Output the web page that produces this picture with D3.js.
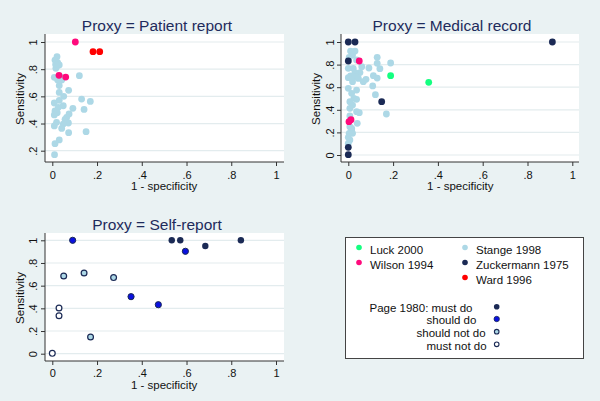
<!DOCTYPE html>
<html><head><meta charset="utf-8">
<script src="https://cdn.jsdelivr.net/npm/d3@7"></script>
<style>body{margin:0;background:#eaf2f3;}svg{display:block;font-family:"Liberation Sans",Arial,sans-serif;}</style>
</head><body><svg id="c" width="600" height="401"></svg>
<script>
// ---- data ----
const panelTitles = ["Proxy = Patient report", "Proxy = Medical record", "Proxy = Self-report"];
const xTicks = [0, 0.2, 0.4, 0.6, 0.8, 1];
const xTickLabels = ["0", ".2", ".4", ".6", ".8", "1"];
const yTicksPatient = [0.2, 0.4, 0.6, 0.8, 1];
const yTickLabelsPatient = [".2", ".4", ".6", ".8", "1"];
const yTicksOther = [0, 0.2, 0.4, 0.6, 0.8, 1];
const yTickLabelsOther = ["0", ".2", ".4", ".6", ".8", "1"];

// Patient report
const stangePatient = [[0.021,0.892],[0.012,0.867],[0.024,0.848],[0.031,0.831],[0.019,0.818],[0.016,0.806],[0.009,0.740],[0.024,0.720],[0.042,0.720],[0.121,0.752],[0.031,0.679],[0.073,0.644],[0.031,0.629],[0.051,0.600],[0.031,0.571],[0.131,0.580],[0.170,0.563],[0.009,0.551],[0.049,0.531],[0.027,0.519],[0.092,0.512],[0.142,0.504],[0.012,0.492],[0.022,0.480],[0.009,0.463],[0.075,0.470],[0.064,0.445],[0.057,0.431],[0.019,0.409],[0.072,0.404],[0.049,0.396],[0.009,0.382],[0.042,0.364],[0.073,0.333],[0.151,0.340],[0.031,0.279],[0.012,0.252],[0.010,0.171],[0.035,0.745],[0.015,0.835]];
const wilsonPatient = [[0.103,1.0],[0.030,0.755],[0.060,0.742]];
const wardPatient = [[0.182,0.929],[0.212,0.929]];

// Medical record
const stangeMedical = [[0.010,0.920],[0.030,0.920],[0.019,0.885],[0.004,0.864],[0.037,0.841],[0.129,0.864],[0.129,0.811],[0.189,0.814],[0.141,0.764],[0.060,0.782],[0.0,0.767],[0.022,0.767],[0.092,0.770],[0.052,0.729],[0.030,0.729],[0.112,0.702],[0.129,0.681],[0.0,0.684],[0.010,0.699],[0.030,0.693],[0.045,0.678],[0.079,0.670],[0.067,0.649],[0.019,0.649],[0.0,0.590],[0.109,0.611],[0.037,0.575],[0.015,0.546],[0.121,0.534],[0.025,0.501],[0.037,0.493],[0.007,0.472],[0.019,0.442],[0.007,0.413],[0.037,0.383],[0.049,0.375],[0.170,0.363],[0.007,0.345],[0.040,0.280],[0.007,0.251],[0.015,0.236],[0.015,0.221],[0.004,0.192],[0.019,0.192],[0.0,0.156],[0.007,0.133],[0.0,0.103]];
const zuckermannMedical = [[0.0,1.0],[0.030,1.0],[0.911,1.0],[0.0,0.832],[0.149,0.472],[0.0,0.068],[0.0,0.003]];
const wilsonMedical = [[0.049,0.832],[0.003,0.295],[0.012,0.313]];
const luckMedical = [[0.189,0.702],[0.359,0.643]];

// Self-report (Page 1980)
const pageMustDo = [[0.534,1.0],[0.572,1.0],[0.684,0.95],[0.843,1.0]];
const pageShouldDo = [[0.091,1.0],[0.595,0.903],[0.352,0.503],[0.474,0.432]];
const pageShouldNotDo = [[0.051,0.685],[0.142,0.712],[0.274,0.671],[0.171,0.147]];
const pageMustNotDo = [[0.030,0.403],[0.030,0.335],[0.0,0.003]];

const legendStudies = ["Luck 2000", "Wilson 1994", "Stange 1998", "Zuckermann 1975", "Ward 1996"];
const legendPage = ["Page 1980: must do", "should do", "should not do", "must not do"];

// ---- styles ----
const C = {luck:"#14ff80", wilson:"#ff0a7c", stange:"#add8e6", zuck:"#1b2a55", ward:"#ff0000", should:"#0a10e0", navy:"#1b2a55"};
const svg = d3.select("#c");
const font = '"Liberation Sans",Arial,sans-serif';

function panel(cfg){
  const g = svg.append("g");
  g.append("rect").attr("x",cfg.rect[0]).attr("y",cfg.rect[1]).attr("width",cfg.rect[2]-cfg.rect[0]).attr("height",cfg.rect[3]-cfg.rect[1]).attr("fill","#fff");
  const x = d3.scaleLinear().domain([0,1]).range(cfg.xr);
  const y = d3.scaleLinear().domain(cfg.yd).range(cfg.yr);
  // gridlines
  g.selectAll(".grid").data(cfg.yTicks).join("line")
    .attr("x1",cfg.rect[0]).attr("x2",cfg.rect[2]).attr("y1",d=>y(d)).attr("y2",d=>y(d))
    .attr("stroke","#e3ecee").attr("stroke-width",1.2);
  // x axis
  const xa = g.append("g").attr("transform",`translate(0,${cfg.rect[3]})`)
    .call(d3.axisBottom(x).tickValues(xTicks).tickFormat((d,i)=>xTickLabels[i]).tickSize(4).tickPadding(3).tickSizeOuter(0));
  xa.select(".domain").attr("d",`M${cfg.rect[0]},0H${cfg.rect[2]}`).attr("stroke","#333");
  xa.selectAll(".tick line").attr("stroke","#333");
  xa.selectAll("text").attr("font-family",font).attr("font-size",11).attr("fill","#111").attr("dy",null).attr("y",cfg.xTickBase-cfg.rect[3]);
  // y axis
  const ya = g.append("g").attr("transform",`translate(${cfg.rect[0]},0)`)
    .call(d3.axisLeft(y).tickValues(cfg.yTicks).tickFormat((d,i)=>cfg.yLabels[i]).tickSize(4).tickSizeOuter(0));
  ya.select(".domain").attr("d",`M0,${cfg.rect[1]}V${cfg.rect[3]}`).attr("stroke","#333");
  ya.selectAll(".tick line").attr("stroke","#333");
  ya.selectAll("text").attr("font-family",font).attr("font-size",11).attr("fill","#111")
    .attr("x",null).attr("dy",null).attr("text-anchor","middle")
    .attr("transform",`translate(${cfg.yTickBase-cfg.rect[0]},0) rotate(-90)`);
  // titles
  g.append("text").attr("x",cfg.titleX).attr("y",cfg.titleY).attr("text-anchor","middle")
    .attr("font-family",font).attr("font-size",15.5).attr("fill","#1e2b5c").text(cfg.title);
  g.append("text").attr("x",x(0.5)).attr("y",cfg.xTitleY).attr("text-anchor","middle")
    .attr("font-family",font).attr("font-size",11.5).attr("fill","#111").text("1 - specificity");
  g.append("text").attr("transform",`translate(${cfg.yTitleX},${(cfg.rect[1]+cfg.rect[3])/2+1}) rotate(-90)`).attr("text-anchor","middle")
    .attr("font-family",font).attr("font-size",11.5).attr("fill","#111").text("Sensitivity");
  // points
  cfg.series.forEach(s=>{
    g.append("g").selectAll("circle").data(s.data).join("circle")
      .attr("cx",d=>x(d[0])).attr("cy",d=>y(d[1])).attr("r",s.r||3.4)
      .attr("fill",s.fill).attr("stroke",s.stroke||"none").attr("stroke-width",s.sw||0);
  });
}

panel({rect:[45,34,284,162], xr:[52.3,276], yd:[0.2,1], yr:[150.7,42], yTicks:yTicksPatient, yLabels:yTickLabelsPatient,
  xTickBase:178.5, yTickBase:37, title:panelTitles[0], titleX:157, titleY:31, xTitleY:189.5, yTitleX:24,
  series:[{data:stangePatient,fill:C.stange},{data:wilsonPatient,fill:C.wilson},{data:wardPatient,fill:C.ward}]});

panel({rect:[341,34,579,162], xr:[348.3,572.3], yd:[0,1], yr:[155,42], yTicks:yTicksOther, yLabels:yTickLabelsOther,
  xTickBase:178.5, yTickBase:333.5, title:panelTitles[1], titleX:452, titleY:31, xTitleY:189.5, yTitleX:320,
  series:[{data:stangeMedical,fill:C.stange},{data:zuckermannMedical,fill:C.zuck},{data:wilsonMedical,fill:C.wilson},{data:luckMedical,fill:C.luck}]});

panel({rect:[45,233,284,361], xr:[52.3,276], yd:[0,1], yr:[353.7,240.3], yTicks:yTicksOther, yLabels:yTickLabelsOther,
  xTickBase:377, yTickBase:37, title:panelTitles[2], titleX:157, titleY:229.5, xTitleY:388.5, yTitleX:24,
  series:[{data:pageMustDo,fill:C.navy,r:3.2},
          {data:pageShouldDo,fill:C.should,stroke:C.navy,sw:1,r:3.1},
          {data:pageShouldNotDo,fill:C.stange,stroke:C.navy,sw:1.2,r:2.9},
          {data:pageMustNotDo,fill:"#fff",stroke:C.navy,sw:1.2,r:2.9}]});

// ---- legend ----
const lg = svg.append("g");
lg.append("rect").attr("x",345.5).attr("y",237.5).attr("width",238).attr("height",121).attr("fill","#fff").attr("stroke","#444").attr("stroke-width",1);
const studyColors = [C.luck, C.wilson, C.stange, C.zuck, C.ward];
const studyPos = [[359,247.5],[359,262.5],[465,247.5],[465,262.5],[465,277.5]];
legendStudies.forEach((name,i)=>{
  const [mx,my] = studyPos[i];
  lg.append("circle").attr("cx",mx).attr("cy",my).attr("r",2.8).attr("fill",studyColors[i]);
  lg.append("text").attr("x",mx+11).attr("y",my+6.3).attr("font-family",font).attr("font-size",11.5).attr("fill","#111").text(name);
});
const pageStyles = [{fill:C.navy,stroke:"none",sw:0,r:2.8},{fill:C.should,stroke:C.navy,sw:0.8,r:2.7},{fill:C.stange,stroke:C.navy,sw:1.1,r:2.3},{fill:"#fff",stroke:C.navy,sw:1.1,r:2.3}];
const pageTextX = [369.5, 426.5, 416.5, 426.5];
const pageY = [306.7, 319, 331.7, 344.3];
legendPage.forEach((name,i)=>{
  const st = pageStyles[i];
  lg.append("circle").attr("cx",496.7).attr("cy",pageY[i]).attr("r",st.r).attr("fill",st.fill).attr("stroke",st.stroke).attr("stroke-width",st.sw);
  lg.append("text").attr("x",pageTextX[i]).attr("y",pageY[i]+5.3).attr("font-family",font).attr("font-size",11.5).attr("fill","#111").text(name);
});
</script></body></html>
